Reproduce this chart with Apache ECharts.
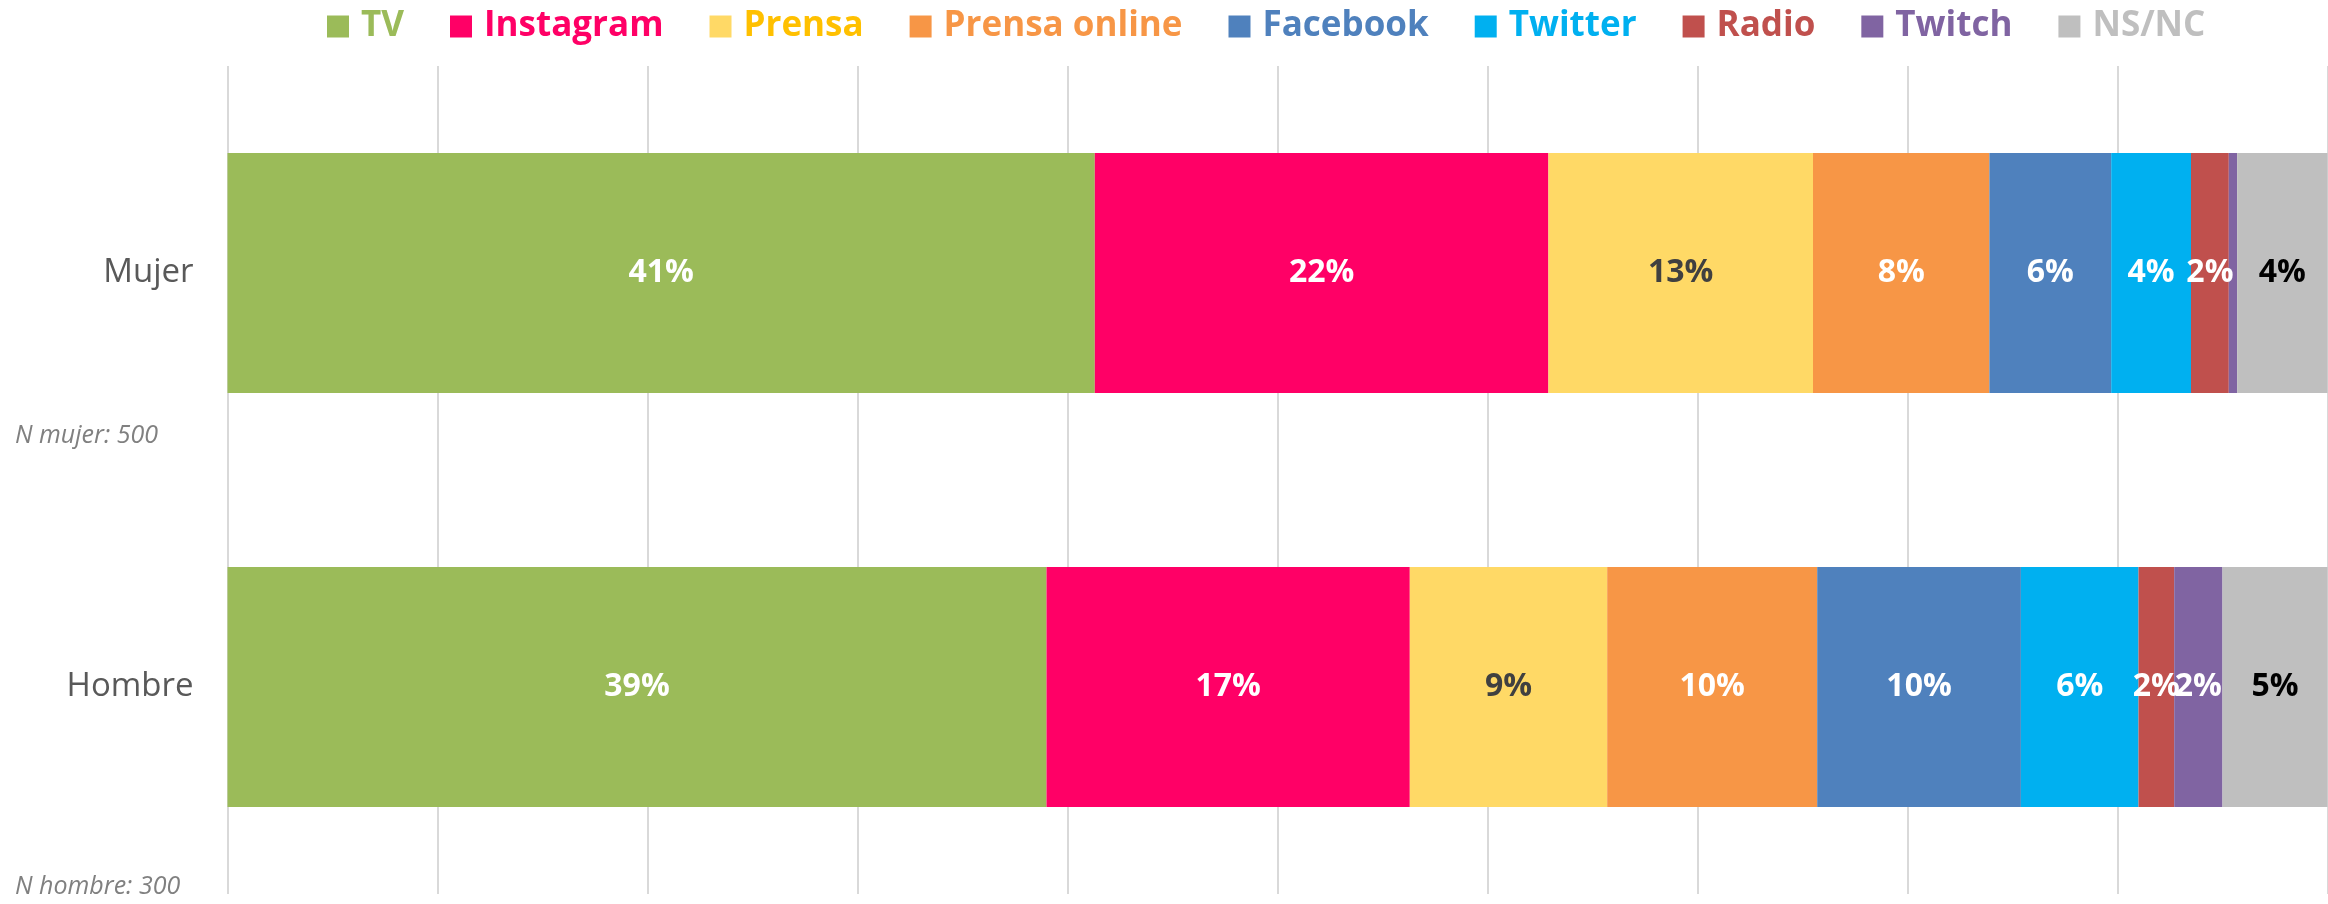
<!DOCTYPE html>
<html>
<head>
<meta charset="utf-8">
<script src="https://cdn.jsdelivr.net/npm/echarts@6/dist/echarts.min.js"></script>
<style>
  html, body { margin: 0; padding: 0; background: #fff; }
  #container { width: 2328px; height: 904px; }
</style>
</head>
<body>
<div id="container"></div>
<script>
var dom = document.getElementById("container");
var myChart = echarts.init(dom);
var option;

var categories = ["Mujer", "Hombre"];
var sampleNotes = ["N mujer: 500", "N hombre: 300"];
var seriesNames = ["TV", "Instagram", "Prensa", "Prensa online", "Facebook", "Twitter", "Radio", "Twitch", "NS/NC"];

// % por medio, [Mujer, Hombre]
var tvData = [41.3, 39.0];
var instagramData = [21.6, 17.3];
var prensaData = [12.6, 9.4];
var prensaOnlineData = [8.4, 10.0];
var facebookData = [5.8, 9.7];
var twitterData = [3.8, 5.6];
var radioData = [1.8, 1.7];
var twitchData = [0.4, 2.3];
var nsncData = [4.3, 5.0];

var allData = [tvData, instagramData, prensaData, prensaOnlineData, facebookData, twitterData, radioData, twitchData, nsncData];
var barColors = ["#9BBB59", "#FF0066", "#FFD966", "#F79646", "#4F81BD", "#00B0F0", "#C0504D", "#8064A2", "#BFBFBF"];
var legendColors = ["#9BBB59", "#FF0066", "#FFC000", "#F79646", "#4F81BD", "#00B0F0", "#C0504D", "#8064A2", "#BFBFBF"];
var labelColors = ["#fff", "#fff", "#404040", "#fff", "#fff", "#fff", "#fff", "#fff", "#000"];

var series = seriesNames.map(function (name, i) {
    return {
        name: name,
        type: "bar",
        stack: "total",
        barWidth: 240,
        itemStyle: { color: barColors[i] },
        label: {
            show: true,
            position: "inside",
            color: labelColors[i],
            fontFamily: "Open Sans",
            fontWeight: "bold",
            fontSize: 32,
            formatter: function (p) {
                return p.value < 1 ? "" : Math.round(p.value) + "%";
            },
        },
        emphasis: { disabled: true },
        data: allData[i],
    };
});

option = {
    animation: false,
    legend: {
        left: 322,
        top: 4,
        icon: "rect",
        itemWidth: 22,
        itemHeight: 22,
        itemGap: 46,
        textStyle: {
            fontFamily: "Open Sans",
            fontWeight: "bold",
            fontSize: 35,
            padding: [0, 0, 0, 7],
        },
        data: seriesNames.map(function (name, i) {
            return { name: name, textStyle: { color: legendColors[i] } };
        }),
    },
    grid: {
        left: 227.5,
        right: 0.5,
        top: 66,
        height: 828,
    },
    xAxis: {
        type: "value",
        min: 0,
        max: 100,
        interval: 10,
        axisLabel: { show: false },
        axisLine: { show: false },
        axisTick: { show: false },
        splitLine: { lineStyle: { color: "#D9D9D9", width: 2 } },
    },
    yAxis: {
        type: "category",
        inverse: true,
        data: categories,
        axisLine: { show: false },
        axisTick: { show: false },
        axisLabel: {
            margin: 34,
            color: "#595959",
            fontFamily: "Open Sans",
            fontSize: 33,
        },
    },
    graphic: [
        {
            type: "text",
            left: 15,
            top: 423,
            style: { text: sampleNotes[0], fill: "#808080", font: "italic 25px 'Open Sans'" },
        },
        {
            type: "text",
            left: 15,
            top: 874,
            style: { text: sampleNotes[1], fill: "#808080", font: "italic 25px 'Open Sans'" },
        },
    ],
    series: series,
};

if (option && typeof option === "object") {
    myChart.setOption(option);
}
</script>
</body>
</html>
